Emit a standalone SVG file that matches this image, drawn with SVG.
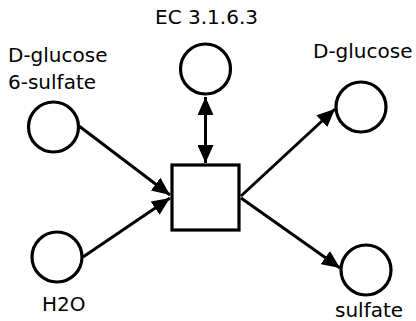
<svg xmlns="http://www.w3.org/2000/svg" width="416" height="321" viewBox="0 0 416 321">
  <style>
    .node { fill: #ffffff; stroke: #000000; stroke-width: 3.2; }
    .edge { fill: none; stroke: #000000; stroke-width: 3; }
    .label { font-family: "DejaVu Sans", sans-serif; font-size: 20px; fill: #000000; }
  </style>
  <defs>
    <marker id="arrow" markerUnits="userSpaceOnUse" markerWidth="18" markerHeight="16" refX="18" refY="8" orient="auto-start-reverse">
      <path d="M0,0 L18,8 L0,16 z" fill="#000000"/>
    </marker>
  </defs>
  <rect width="416" height="321" fill="#ffffff"/>

  <g id="connectors">
    <line class="edge" x1="79" y1="126" x2="170" y2="195" marker-end="url(#arrow)"/>
    <line class="edge" x1="83" y1="257" x2="170" y2="198" marker-end="url(#arrow)"/>
    <line class="edge" x1="241" y1="196" x2="335" y2="109" marker-end="url(#arrow)"/>
    <line class="edge" x1="241" y1="198" x2="340" y2="268" marker-end="url(#arrow)"/>
    <line class="edge" x1="205.5" y1="97" x2="205.5" y2="163" marker-start="url(#arrow)" marker-end="url(#arrow)"/>
  </g>

  <g id="reaction">
    <rect class="node" x="172" y="165" width="67" height="65"/>
  </g>

  <g id="ec-3-1-6-3">
    <circle class="node" cx="205.5" cy="69" r="25"/>
    <text class="label" x="206.5" y="24" text-anchor="middle">EC 3.1.6.3</text>
  </g>

  <g id="d-glucose-6-sulfate">
    <circle class="node" cx="53.5" cy="127" r="25"/>
    <text class="label" x="8" y="62">D-glucose</text>
    <text class="label" x="8" y="89">6-sulfate</text>
  </g>

  <g id="h2o">
    <circle class="node" cx="57" cy="257" r="25"/>
    <text class="label" x="42" y="311">H2O</text>
  </g>

  <g id="d-glucose">
    <circle class="node" cx="361" cy="107" r="25"/>
    <text class="label" x="313" y="58">D-glucose</text>
  </g>

  <g id="sulfate">
    <circle class="node" cx="366" cy="270" r="25"/>
    <text class="label" x="335" y="317">sulfate</text>
  </g>
</svg>
